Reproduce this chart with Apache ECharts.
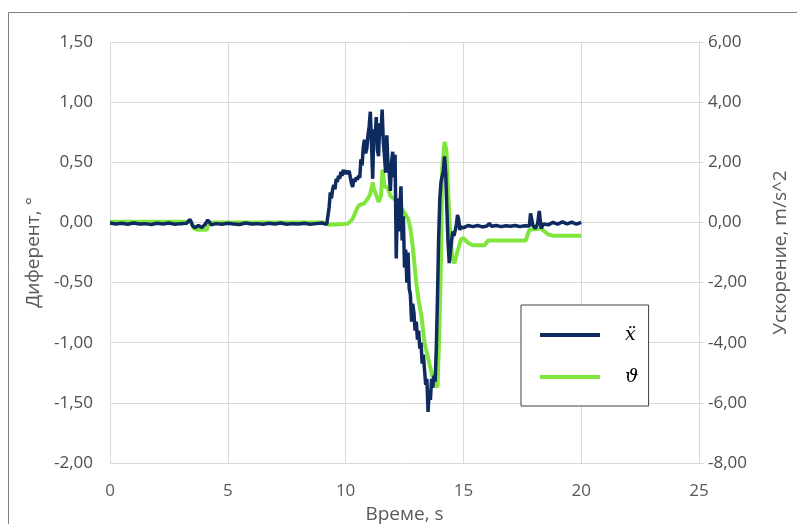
<!DOCTYPE html>
<html>
<head>
<meta charset="utf-8">
<script src="https://cdn.jsdelivr.net/npm/echarts/dist/echarts.min.js"></script>
<style>
  html, body { margin: 0; padding: 0; background: #fff; overflow: hidden; }
  #chart { width: 797px; height: 524px; }
</style>
</head>
<body>
<div id="chart"></div>
<script>
// ẍ, m/s^2 (right axis) — [time s, value]
const accelQuiet = [
  [0,-0.02],[0.25,-0.05],[0.5,-0.03],[0.75,-0.06],[1,-0.02],[1.25,-0.05],[1.5,-0.04],[1.75,-0.07],
  [2,-0.03],[2.25,-0.05],[2.5,-0.02],[2.75,-0.06],[3,-0.04],[3.25,-0.03],[3.4,0.1],[3.5,-0.1],
  [3.6,-0.18],[3.75,-0.1],[3.9,-0.17],[4.05,-0.05],[4.15,0.08],[4.3,-0.08],[4.5,-0.04],[4.75,-0.06],
  [5,-0.03],[5.25,-0.05],[5.5,-0.07],[5.75,-0.02],[6,-0.05],[6.25,-0.04],[6.5,-0.06],[6.75,-0.03],
  [7,-0.05],[7.25,-0.02],[7.5,-0.06],[7.75,-0.04],[8,-0.05],[8.25,-0.03],[8.5,-0.06],[8.75,-0.04],
  [9,-0.02],[9.2,-0.06]
];
const accelEvent = [
  [9.25,0.0],[9.3,0.5],[9.35,1.0],[9.4,0.8],[9.45,1.1],[9.5,1.25],[9.55,1.1],[9.6,1.45],[9.65,1.35],
  [9.7,1.55],[9.75,1.45],[9.8,1.68],[9.85,1.55],[9.9,1.75],[9.95,1.6],[10.0,1.72],[10.05,1.78],
  [10.1,1.62],[10.15,1.72],[10.2,1.5],[10.25,1.3],[10.3,1.18],[10.35,1.45],[10.4,1.35],[10.45,1.5],
  [10.5,1.42],[10.55,1.55],[10.6,1.48],[10.65,2.1],[10.7,1.9],[10.75,2.5],[10.8,2.75],[10.85,2.3],
  [10.9,2.45],[10.95,2.9],[11.0,3.2],[11.05,3.68],[11.1,2.6],[11.15,1.45],[11.2,3.1],[11.25,2.7],
  [11.3,3.5],[11.35,2.4],[11.4,2.2],[11.45,3.3],[11.5,2.9],[11.55,3.75],[11.6,2.7],[11.65,2.2],
  [11.7,1.65],[11.75,2.9],[11.8,1.9],[11.85,1.7],[11.9,1.05],[11.95,2.0],[12.0,2.35],[12.05,1.5],
  [12.1,2.25],[12.15,-1.2],[12.2,0.8],[12.25,-0.3],[12.3,0.4],[12.35,1.2],[12.4,-0.6],[12.45,0.2],
  [12.5,-1.5],[12.55,-0.9],[12.6,-2.0],[12.65,-1.0],[12.7,-2.2],[12.75,-2.4],[12.8,-3.3],[12.85,-2.7],
  [12.9,-3.0],[12.95,-3.6],[13.0,-3.3],[13.05,-3.9],[13.1,-3.6],[13.15,-4.2],[13.2,-4.0],[13.25,-4.7],
  [13.3,-4.4],[13.35,-4.9],[13.4,-5.4],[13.45,-5.2],[13.5,-6.3],[13.55,-5.6],[13.6,-5.9],[13.65,-5.2],
  [13.7,-5.5],[13.75,-5.1],[13.8,-5.3],[13.85,-4.2],[13.9,-2.5],[13.95,-0.5],[14.0,0.8],[14.05,1.35],
  [14.1,1.55],[14.15,1.7],[14.2,2.2],[14.25,1.6],[14.3,0.4],[14.35,-0.7],[14.4,-1.35],[14.45,-1.3],
  [14.5,-0.6],[14.55,-0.3],[14.6,-0.45],[14.65,-0.5],[14.7,-0.1],[14.75,0.25],[14.8,0.1],[14.85,-0.25],
  [14.9,-0.15]
];
const accelTail = [
  [15.0,-0.18],[15.2,-0.1],[15.4,-0.14],[15.6,-0.1],[15.8,-0.15],[16.0,-0.12],[16.1,-0.03],[16.2,-0.13],
  [16.4,-0.1],[16.6,-0.14],[16.8,-0.11],[17.0,-0.13],[17.2,-0.1],[17.4,-0.14],[17.6,-0.11],[17.8,-0.12],
  [17.85,0.3],[17.95,-0.1],[18.05,-0.2],[18.15,-0.05],[18.22,0.38],[18.3,-0.2],[18.4,-0.05],[18.6,-0.08],
  [18.8,0.0],[19.0,-0.06],[19.2,0.02],[19.4,-0.05],[19.6,0.01],[19.8,-0.06],[20.0,0.0]
];

// ϑ, degrees (left axis) — [time s, value]
const theta = [
  [0,0.005],[3.45,0.005],[3.55,-0.05],[3.7,-0.06],[4.1,-0.06],[4.2,-0.01],[4.3,0.0],[9.0,0.0],
  [9.3,-0.02],[10.1,-0.01],[10.3,0.03],[10.45,0.1],[10.55,0.14],[10.8,0.16],[10.95,0.2],[11.05,0.24],
  [11.15,0.33],[11.2,0.28],[11.3,0.23],[11.4,0.17],[11.5,0.22],[11.57,0.44],[11.65,0.3],[11.78,0.29],
  [11.9,0.22],[12.1,0.19],[12.3,0.14],[12.5,0.08],[12.65,0.03],[12.75,-0.05],[12.85,-0.2],[13.0,-0.5],
  [13.1,-0.65],[13.22,-0.78],[13.35,-1.0],[13.55,-1.17],[13.75,-1.33],[13.9,-1.37],[13.98,-0.9],
  [14.05,-0.3],[14.1,0.45],[14.2,0.67],[14.28,0.6],[14.34,0.3],[14.42,-0.02],[14.52,-0.28],[14.62,-0.34],
  [14.75,-0.24],[14.9,-0.14],[15.0,-0.13],[15.2,-0.17],[15.4,-0.19],[15.9,-0.19],[16.05,-0.15],
  [17.65,-0.15],[17.8,-0.06],[18.3,-0.05],[18.6,-0.1],[18.8,-0.11],[20.0,-0.11]
];

const accelData = accelQuiet.concat(accelEvent, accelTail);

const labelFont = { fontFamily: 'Open Sans', fontSize: 17, color: '#4d4d4d' };
const titleFont = { fontFamily: 'Open Sans', fontSize: 19, color: '#595959' };
const fmt = v => v.toFixed(2).replace('.', ',');

const chart = echarts.init(document.getElementById('chart'), null, { width: 797, height: 524 });
chart.setOption({
  animation: false,
  backgroundColor: '#fff',
  grid: { left: 110, width: 589, top: 42, height: 421, containLabel: false, outerBoundsMode: 'none' },
  graphic: [{
    type: 'rect',
    shape: { x: 8.5, y: 12.5, width: 820, height: 540 },
    style: { fill: 'none', stroke: '#808080', lineWidth: 1 },
    silent: true, z: -10
  }],
  legend: {
    data: ['ẍ', 'ϑ'],
    orient: 'vertical',
    left: 521, top: 305,
    padding: [19, 10, 18, 19],
    itemWidth: 60, itemHeight: 4, itemGap: 20,
    icon: 'rect',
    borderColor: '#404040', borderWidth: 1,
    backgroundColor: '#fff',
    textStyle: {
      fontFamily: 'DejaVu Serif', fontStyle: 'italic', fontSize: 19,
      color: '#000', lineHeight: 22, padding: [0, 0, 0, 20]
    }
  },
  xAxis: {
    type: 'value', min: 0, max: 25, interval: 5,
    name: 'Време, s', nameLocation: 'middle', nameGap: 39,
    nameTextStyle: titleFont,
    axisLine: { show: true, lineStyle: { color: '#d9d9d9' } },
    axisTick: { show: false },
    axisLabel: Object.assign({ margin: 20 }, labelFont, { color: '#595959' }),
    splitLine: { show: true, lineStyle: { color: '#d9d9d9' } }
  },
  yAxis: [{
    type: 'value', min: -2, max: 1.5, interval: 0.5,
    name: 'Диферент, °', nameLocation: 'middle', nameGap: 58, nameRotate: 90,
    nameTextStyle: titleFont,
    axisLine: { show: false },
    axisTick: { show: false },
    axisLabel: Object.assign({ margin: 17, formatter: fmt }, labelFont),
    splitLine: { show: true, lineStyle: { color: '#d9d9d9' } }
  }, {
    type: 'value', min: -8, max: 6, interval: 2,
    name: 'Ускорение, m/s^2', nameLocation: 'middle', nameGap: 72, nameRotate: 90,
    nameTextStyle: titleFont,
    axisLine: { show: true, lineStyle: { color: '#d9d9d9' } },
    axisTick: { show: true, length: 5, lineStyle: { color: '#d9d9d9' } },
    axisLabel: Object.assign({ margin: 9, formatter: fmt }, labelFont),
    splitLine: { show: false }
  }],
  series: [{
    name: 'ϑ',
    type: 'line',
    yAxisIndex: 0,
    data: theta,
    symbol: 'none',
    lineStyle: { color: '#80e53c', width: 4 },
    itemStyle: { color: '#80e53c' }
  }, {
    name: 'ẍ',
    type: 'line',
    yAxisIndex: 1,
    data: accelData,
    symbol: 'none',
    lineStyle: { color: '#0e2a5e', width: 3.5 },
    itemStyle: { color: '#0e2a5e' }
  }]
});
</script>
</body>
</html>
